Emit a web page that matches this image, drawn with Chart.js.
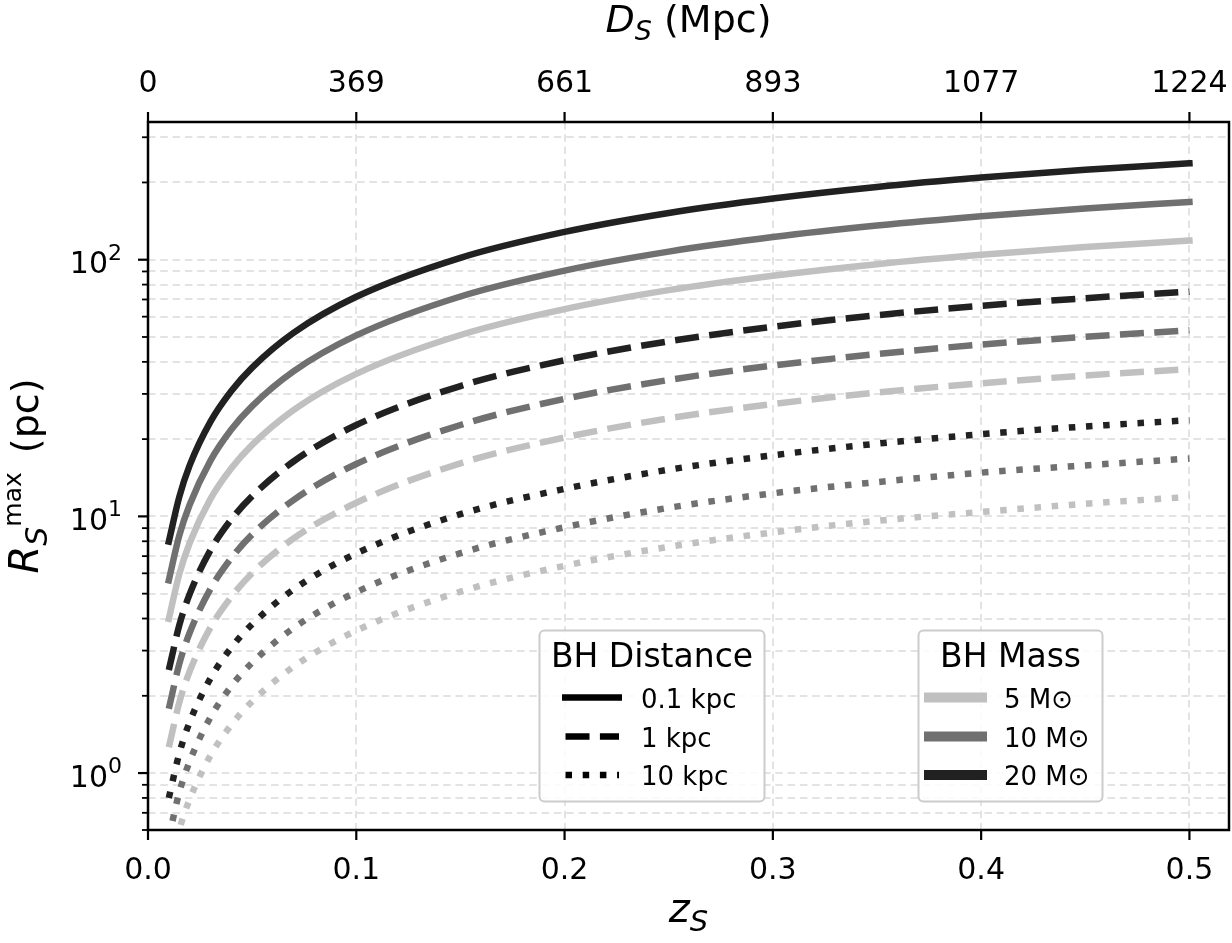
<!DOCTYPE html>
<html>
<head>
<meta charset="utf-8">
<script src="https://cdn.jsdelivr.net/npm/chart.js@4.4.1/dist/chart.umd.min.js"></script>
<style>
  html, body { margin: 0; padding: 0; background: #fff; }
  canvas { display: block; }
</style>
</head>
<body>
<canvas id="myChart" width="1232" height="943"></canvas>
<script>
// redshift samples
const z = [0.01, 0.015, 0.02, 0.03, 0.04, 0.05, 0.07, 0.1, 0.15, 0.2, 0.25, 0.3, 0.35, 0.4, 0.45, 0.5];

// R_S^max (pc), BH distance 0.1 kpc
const d01_m5  = [3.99, 5.95, 7.88, 11.7, 15.4, 19.0, 26.0, 35.9, 50.9, 64.2, 76.1, 86.6, 96.1, 104.5, 112.0, 118.7];
const d01_m10 = [5.64, 8.41, 11.1, 16.5, 21.8, 26.9, 36.8, 50.7, 71.9, 90.7, 107.5, 122.5, 135.8, 147.7, 158.4, 167.9];
const d01_m20 = [7.97, 11.9, 15.8, 23.4, 30.8, 38.0, 52.0, 71.7, 101.7, 128.3, 152.1, 173.2, 192.1, 208.9, 224.0, 237.4];
// 1 kpc
const d1_m5  = [1.26, 1.88, 2.49, 3.69, 4.86, 6.01, 8.22, 11.3, 16.1, 20.3, 24.1, 27.4, 30.4, 33.0, 35.4, 37.5];
const d1_m10 = [1.78, 2.66, 3.52, 5.22, 6.88, 8.50, 11.6, 16.0, 22.7, 28.7, 34.0, 38.7, 42.9, 46.7, 50.1, 53.1];
const d1_m20 = [2.52, 3.76, 4.98, 7.39, 9.73, 12.0, 16.4, 22.7, 32.2, 40.6, 48.1, 54.8, 60.8, 66.1, 70.8, 75.1];
// 10 kpc
const d10_m5  = [0.40, 0.60, 0.79, 1.17, 1.54, 1.90, 2.60, 3.59, 5.09, 6.42, 7.61, 8.66, 9.61, 10.4, 11.2, 11.9];
const d10_m10 = [0.56, 0.84, 1.11, 1.65, 2.18, 2.69, 3.68, 5.07, 7.19, 9.07, 10.8, 12.3, 13.6, 14.8, 15.8, 16.8];
const d10_m20 = [0.80, 1.19, 1.58, 2.34, 3.08, 3.80, 5.20, 7.17, 10.2, 12.8, 15.2, 17.3, 19.2, 20.9, 22.4, 23.7];

// ticks
const zTicks = [0, 0.1, 0.2, 0.3, 0.4, 0.5];
const zTickLabels = ["0.0", "0.1", "0.2", "0.3", "0.4", "0.5"];
const dTickLabels = ["0", "369", "661", "893", "1077", "1224"];
const yMajor = [1, 10, 100];
const yExp = ["0", "1", "2"];
const yTicks = [0.6, 0.7, 0.8, 0.9, 1, 2, 3, 4, 5, 6, 7, 8, 9, 10, 20, 30, 40, 50, 60, 70, 80, 90, 100, 200, 300];

const distLabels = ["0.1 kpc", "1 kpc", "10 kpc"];
const massLabels = ["5 M\u2299", "10 M\u2299", "20 M\u2299"];

const FONT = '"DejaVu Sans", "Liberation Sans", sans-serif';
const massColor = ["#c0c0c0", "#707070", "#212121"];
const LW = 6.5;
const distDash = [[], [24, 10.4], [6.5, 10.7]];
const distCap = ["square", "butt", "butt"];

const series = [
  [d01_m5, 0, 0], [d01_m10, 0, 1], [d01_m20, 0, 2],
  [d1_m5, 1, 0], [d1_m10, 1, 1], [d1_m20, 1, 2],
  [d10_m5, 2, 0], [d10_m10, 2, 1], [d10_m20, 2, 2],
];

const datasets = series.map(([vals, di, mi]) => ({
  data: vals.map((v, i) => ({ x: z[i], y: v })),
  borderColor: massColor[mi],
  borderWidth: LW,
  borderDash: distDash[di],
  borderCapStyle: distCap[di],
  pointRadius: 0,
  fill: false,
  cubicInterpolationMode: "monotone",
  clip: 0,
}));

function line(ctx, x1, y1, x2, y2) {
  ctx.beginPath();
  ctx.moveTo(x1, y1);
  ctx.lineTo(x2, y2);
  ctx.stroke();
}

// draws pieces of text side by side: [text, font, dy]
function richText(ctx, parts, x, y, align) {
  let w = 0;
  parts.forEach(p => { ctx.font = p[1]; w += ctx.measureText(p[0]).width; });
  let cx = align === "center" ? x - w / 2 : (align === "right" ? x - w : x);
  ctx.textAlign = "left";
  ctx.textBaseline = "alphabetic";
  parts.forEach(p => {
    ctx.font = p[1];
    ctx.fillText(p[0], cx, y + (p[2] || 0));
    cx += ctx.measureText(p[0]).width;
  });
}

function roundBox(ctx, x, y, w, h, r) {
  ctx.beginPath();
  ctx.moveTo(x + r, y);
  ctx.arcTo(x + w, y, x + w, y + h, r);
  ctx.arcTo(x + w, y + h, x, y + h, r);
  ctx.arcTo(x, y + h, x, y, r);
  ctx.arcTo(x, y, x + w, y, r);
  ctx.closePath();
  ctx.fillStyle = "rgba(255,255,255,0.85)";
  ctx.fill();
  ctx.strokeStyle = "#cccccc";
  ctx.lineWidth = 2;
  ctx.stroke();
}

const rowsY = [697.5, 736.5, 775];

const decorations = {
  id: "decorations",
  beforeDraw(chart) {
    const ctx = chart.ctx;
    ctx.save();
    ctx.fillStyle = "#fff";
    ctx.fillRect(0, 0, chart.width, chart.height);
    ctx.restore();
  },
  afterDraw(chart) {
    const { ctx, chartArea: a, scales: { x, y } } = chart;
    ctx.save();
    ctx.strokeStyle = "#000";
    ctx.fillStyle = "#000";
    ctx.lineCap = "butt";
    ctx.setLineDash([]);

    // tick marks
    ctx.lineWidth = 2.2;
    zTicks.forEach(v => {
      const px = x.getPixelForValue(v);
      line(ctx, px, a.bottom, px, a.bottom + 10);
      line(ctx, px, a.top, px, a.top - 10);
    });
    yTicks.forEach(v => {
      const py = y.getPixelForValue(v);
      const len = yMajor.includes(v) ? 10 : 6;
      ctx.lineWidth = yMajor.includes(v) ? 2.2 : 1.8;
      line(ctx, a.left, py, a.left - len, py);
    });

    // frame
    ctx.lineWidth = 2.5;
    ctx.strokeRect(a.left, a.top, a.right - a.left, a.bottom - a.top);

    // tick labels
    ctx.font = "30px " + FONT;
    ctx.textAlign = "center";
    ctx.textBaseline = "alphabetic";
    zTicks.forEach((v, i) => {
      const px = x.getPixelForValue(v);
      ctx.fillText(zTickLabels[i], px, a.bottom + 48.5);
      ctx.fillText(dTickLabels[i], px, a.top - 30.5);
    });
    yMajor.forEach((v, i) => {
      const py = y.getPixelForValue(v);
      richText(ctx, [["10", "30px " + FONT, 0], [yExp[i], "22px " + FONT, -13.5]], a.left - 26, py + 13.5, "right");
    });

    // axis titles
    const mid = (a.left + a.right) / 2;
    richText(ctx, [["D", "italic 38px " + FONT, 0], ["S", "italic 27px " + FONT, 8], [" (Mpc)", "38px " + FONT, 0]], mid, 32, "center");
    richText(ctx, [["z", "italic 40px " + FONT, 0], ["S", "italic 29px " + FONT, 9]], mid, 922, "center");
    ctx.save();
    ctx.translate(38, 476);
    ctx.rotate(-Math.PI / 2);
    richText(ctx, [["R", "italic 40px " + FONT, 0], ["S", "italic 30px " + FONT, 9], ["max", "25px " + FONT, -17], ["\u2002(pc)", "38px " + FONT, 0]], 0, 0, "center");
    ctx.restore();

    // legend: BH Distance
    roundBox(ctx, 539.5, 630.5, 225, 171, 5);
    ctx.fillStyle = "#000";
    ctx.font = "33px " + FONT;
    ctx.textAlign = "center";
    ctx.fillText("BH Distance", 652, 667);
    distLabels.forEach((lab, i) => {
      ctx.strokeStyle = "#000";
      ctx.lineWidth = LW;
      ctx.setLineDash(distDash[i]);
      ctx.lineCap = "butt";
      if (i === 0) line(ctx, 562, rowsY[i], 622, rowsY[i]);
      else line(ctx, 565.5, rowsY[i], 619, rowsY[i]);
      ctx.setLineDash([]);
      ctx.font = "26px " + FONT;
      ctx.textAlign = "left";
      ctx.fillText(lab, 641, rowsY[i] + 10);
    });

    // legend: BH Mass
    roundBox(ctx, 918.5, 630.5, 184, 171, 5);
    ctx.fillStyle = "#000";
    ctx.font = "33px " + FONT;
    ctx.textAlign = "center";
    ctx.fillText("BH Mass", 1010.5, 667);
    massLabels.forEach((lab, i) => {
      ctx.strokeStyle = massColor[i];
      ctx.lineWidth = 10;
      line(ctx, 924, rowsY[i], 987, rowsY[i]);
      ctx.font = "26px " + FONT;
      ctx.textAlign = "left";
      ctx.fillText(lab, 1004, rowsY[i] + 10);
    });

    ctx.restore();
  }
};

const gridOpts = { color: "#e3e3e3", lineWidth: 2, drawTicks: false };
const borderOpts = { display: false, dash: [7.5, 4.8] };

const ctx = document.getElementById("myChart");
const myChart = new Chart(ctx, {
  type: "line",
  data: { datasets: datasets },
  options: {
    responsive: false,
    animation: false,
    devicePixelRatio: 1,
    layout: { padding: { left: 148, right: 3, top: 122, bottom: 113 } },
    plugins: {
      legend: { display: false },
      tooltip: { enabled: false },
    },
    scales: {
      x: {
        type: "linear",
        min: 0,
        max: 0.519,
        grid: gridOpts,
        border: borderOpts,
        ticks: { display: false },
        afterBuildTicks: s => { s.ticks = zTicks.map(v => ({ value: v })); },
      },
      y: {
        type: "logarithmic",
        min: 0.6,
        max: 344,
        grid: gridOpts,
        border: borderOpts,
        ticks: { display: false, autoSkip: false },
        afterBuildTicks: s => { s.ticks = yTicks.map(v => ({ value: v })); },
      },
    },
  },
  plugins: [decorations],
});
</script>
</body>
</html>
